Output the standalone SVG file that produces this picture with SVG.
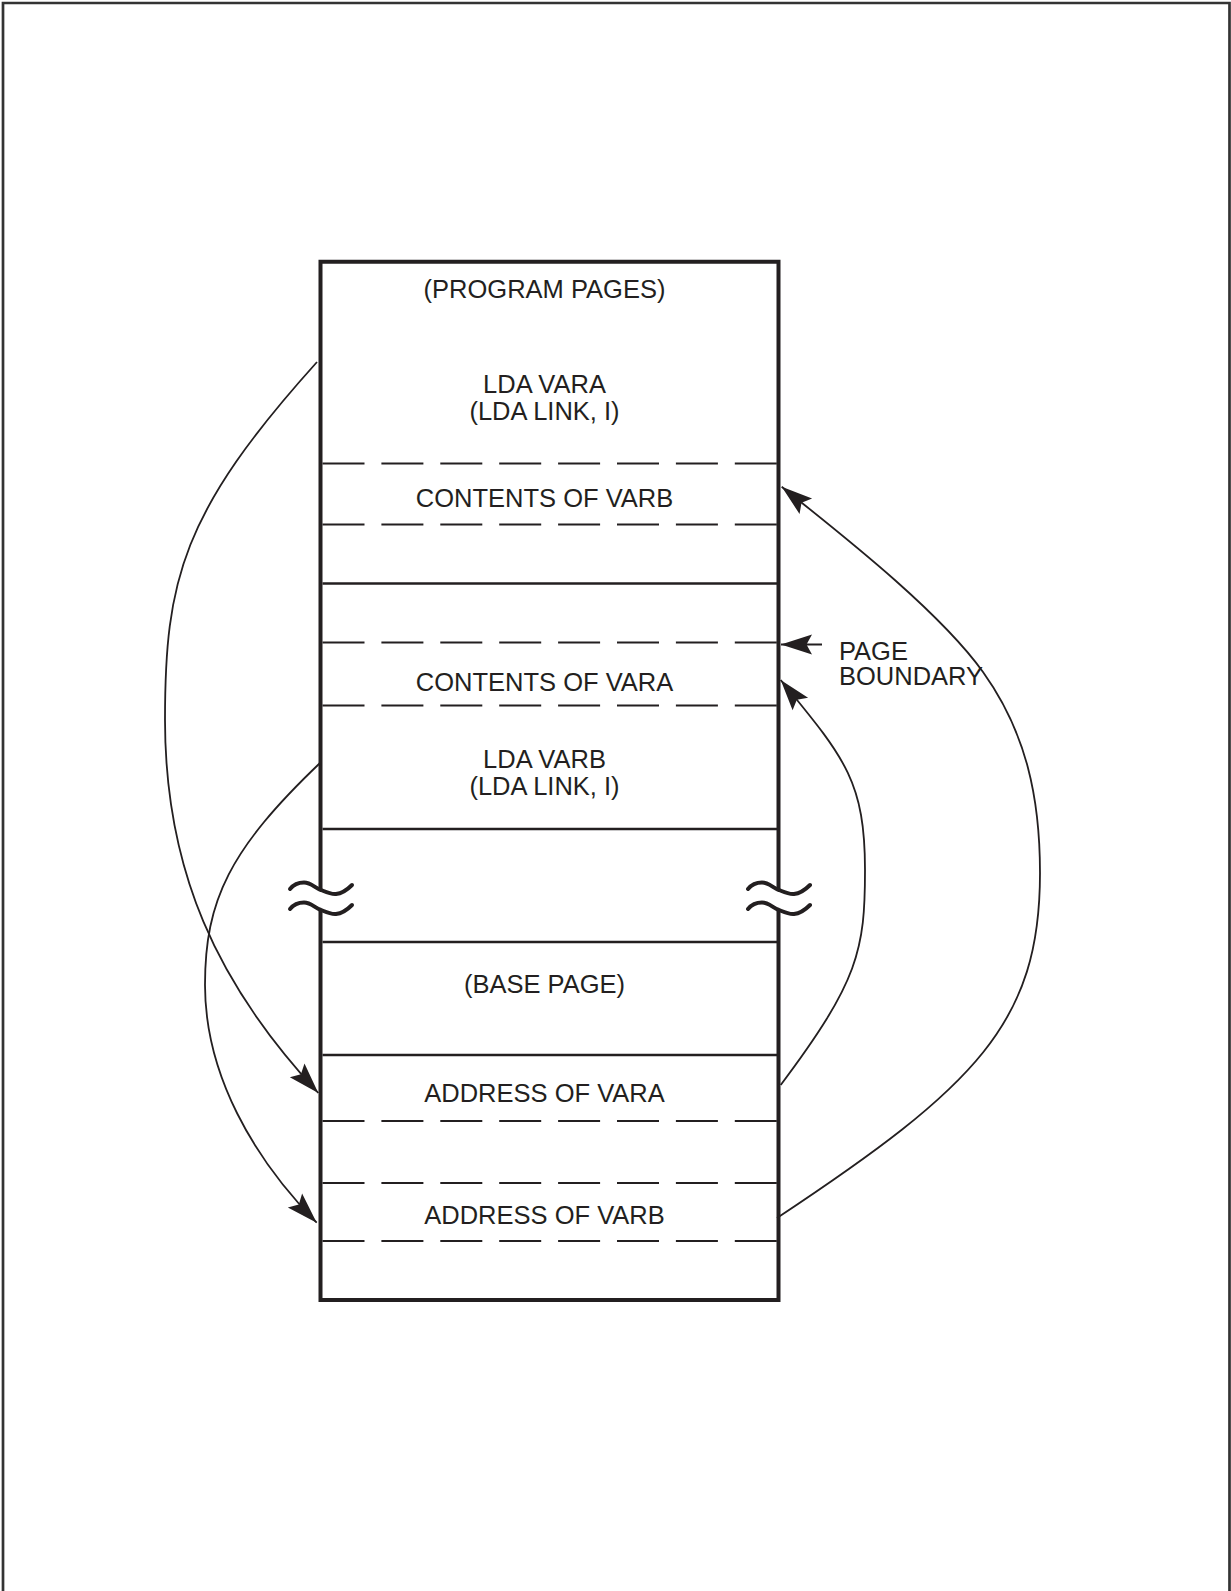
<svg xmlns="http://www.w3.org/2000/svg" xmlns:xlink="http://www.w3.org/1999/xlink" width="1231" height="1591" viewBox="0 0 1231 1591">
  <style>
    .t { font-family: "Liberation Sans", Arial, Helvetica, sans-serif; font-size: 25.5px; fill: #231f20; }
    .c { text-anchor: middle; }
    .box { fill: none; stroke: #231f20; stroke-width: 4; stroke-linejoin: miter; }
    .solid { stroke: #231f20; stroke-width: 2.6; fill: none; }
    .dash { stroke: #231f20; stroke-width: 2; fill: none; stroke-dasharray: 42 16.9; }
    .wave { stroke: #231f20; stroke-width: 4; fill: none; stroke-linecap: round; }
    .conn { stroke: #231f20; stroke-width: 1.8; fill: none; marker-end: url(#arrow); }
  </style>
  <defs>
    <marker id="arrow" markerUnits="userSpaceOnUse" viewBox="-33 -12 35 24" refX="0" refY="0" markerWidth="35" markerHeight="24" orient="auto" overflow="visible">
      <path d="M0,0 L-31,-10 L-25.5,0 L-31,10 Z" fill="#231f20"/>
    </marker>
    <path id="brk" d="M290,889 C294,884 299,882.5 304,882.5 C311,882.5 315,888 321,890 C327,892.5 331,894.5 336,894 C342,893.5 348,889 352,885"/>
  </defs>

  <rect width="1231" height="1591" fill="#ffffff"/>
  <g id="page-frame">
    <path d="M3,1591 V3 H1229.5 V1591" fill="none" stroke="#333333" stroke-width="2.7"/>
  </g>

  <g id="memory-box">
    <path class="box" d="M320.5,890 V261.7 H778.5 V890 M778.5,910 V1300 H320.5 V910"/>
  </g>

  <g id="break-symbols">
    <use xlink:href="#brk" class="wave"/>
    <use xlink:href="#brk" class="wave" transform="translate(0,20)"/>
    <use xlink:href="#brk" class="wave" transform="translate(458,0)"/>
    <use xlink:href="#brk" class="wave" transform="translate(458,20)"/>
  </g>

  <g id="program-pages">
    <text class="t c" x="544.5" y="298">(PROGRAM PAGES)</text>
  </g>
  <g id="lda-vara">
    <text class="t c" x="544.5" y="393">LDA VARA</text>
    <text class="t c" x="544.5" y="420">(LDA LINK, I)</text>
  </g>
  <g id="contents-varb">
    <line class="dash" x1="322.5" y1="463.5" x2="777" y2="463.5"/>
    <text class="t c" x="544.5" y="507">CONTENTS OF VARB</text>
    <line class="dash" x1="322.5" y1="524.5" x2="777" y2="524.5"/>
  </g>
  <g id="page-divider-1">
    <line class="solid" x1="322.5" y1="583.5" x2="777" y2="583.5"/>
  </g>
  <g id="contents-vara">
    <line class="dash" x1="322.5" y1="642.5" x2="777" y2="642.5"/>
    <text class="t c" x="544.5" y="691">CONTENTS OF VARA</text>
    <line class="dash" x1="322.5" y1="705.5" x2="777" y2="705.5"/>
  </g>
  <g id="page-boundary-label">
    <text class="t" x="839" y="660">PAGE</text>
    <text class="t" x="839" y="685">BOUNDARY</text>
  </g>
  <g id="lda-varb">
    <text class="t c" x="544.5" y="768">LDA VARB</text>
    <text class="t c" x="544.5" y="795">(LDA LINK, I)</text>
  </g>
  <g id="page-divider-2">
    <line class="solid" x1="322.5" y1="829" x2="777" y2="829"/>
    <line class="solid" x1="322.5" y1="942" x2="777" y2="942"/>
  </g>
  <g id="base-page">
    <text class="t c" x="544.5" y="993">(BASE PAGE)</text>
    <line class="solid" x1="322.5" y1="1055" x2="777" y2="1055"/>
  </g>
  <g id="address-vara">
    <text class="t c" x="544.5" y="1101.5">ADDRESS OF VARA</text>
    <line class="dash" x1="322.5" y1="1121" x2="777" y2="1121"/>
  </g>
  <g id="address-varb">
    <line class="dash" x1="322.5" y1="1183" x2="777" y2="1183"/>
    <text class="t c" x="544.5" y="1223.5">ADDRESS OF VARB</text>
    <line class="dash" x1="322.5" y1="1241" x2="777" y2="1241"/>
  </g>

  <g id="connectors">
    <path class="conn" d="M317,362 C182,512 165,580 165,720 C165,870 216.3,983.5 318.3,1093"/>
    <path class="conn" d="M320,763 C230,849 205,900 205,985 C205,1075 253.7,1158.5 316.7,1222.7"/>
    <path class="conn" d="M780.7,1085 C858.7,981 865,950 865,870 C865,780 843.7,757 780.7,680"/>
    <path class="conn" d="M777,1218 C976.2,1086 1040,1023 1040,873 C1040,798 1026.5,732.75 983,672 C936.6,607.2 828.5,524.5 781.7,486.7"/>
    <path class="conn" d="M822,644.5 H781"/>
  </g>
</svg>
